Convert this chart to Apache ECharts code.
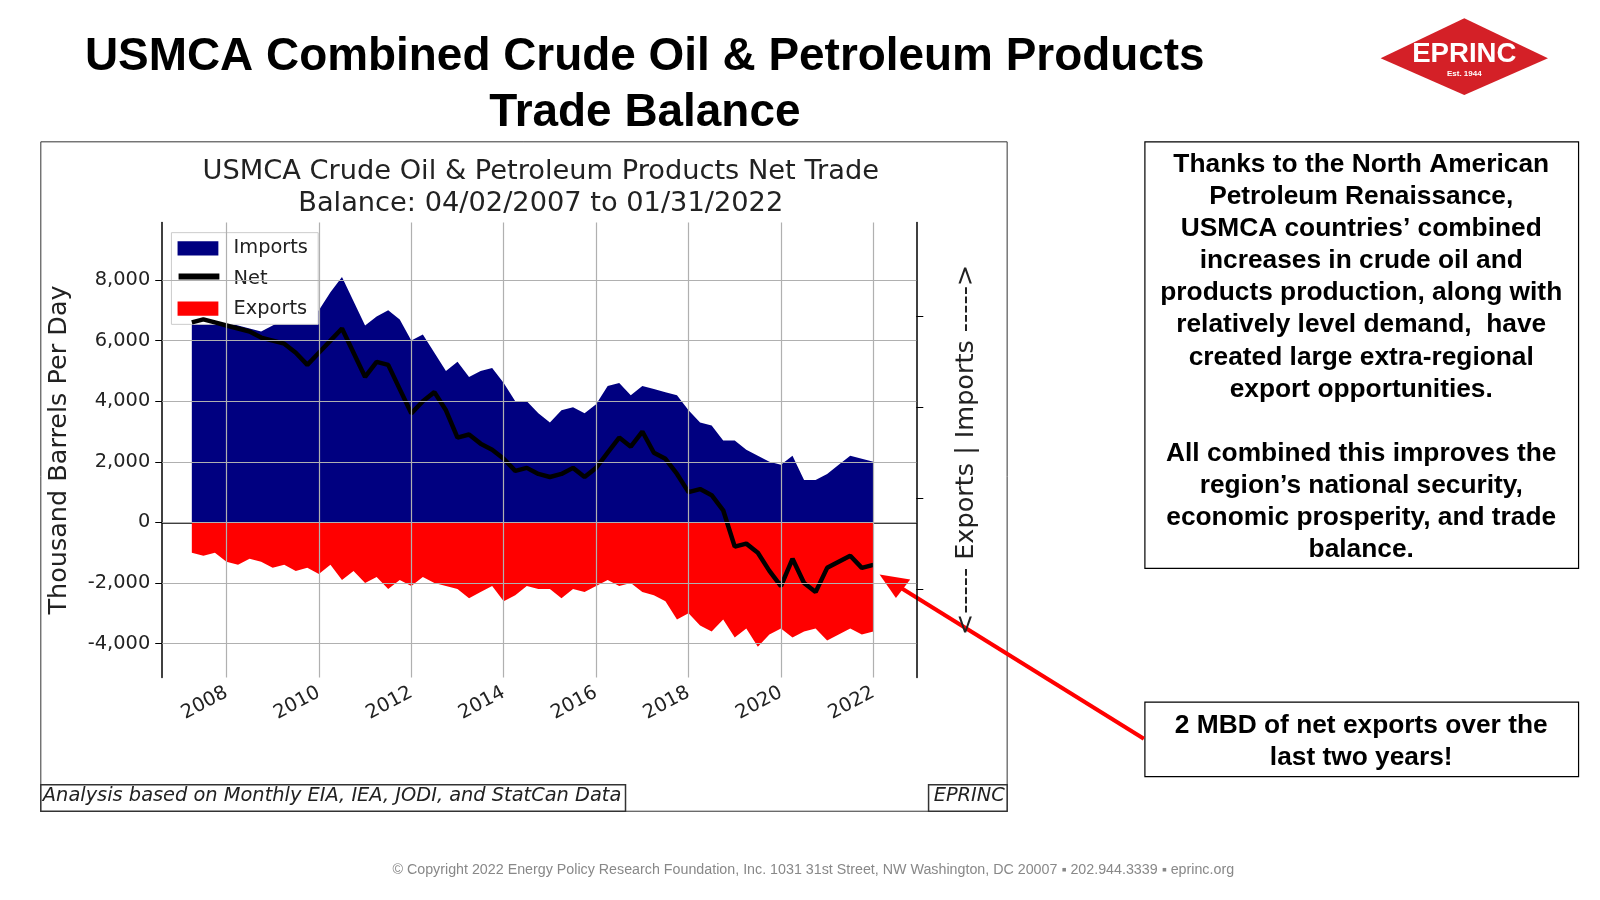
<!DOCTYPE html>
<html><head><meta charset="utf-8">
<script src="https://cdn.jsdelivr.net/npm/echarts@6/dist/echarts.min.js"></script>
<style>html,body{margin:0;background:#fff}#c{width:1600px;height:900px}</style>
</head><body><div id="c"></div>
<script>
const startYear = 2007.25, step = 0.25;
const imports = [6800,6800,6700,6600,6500,6400,6300,6500,6700,6800,6700,7000,7600,8100,7300,6500,6800,7000,6700,6000,6200,5600,5000,5300,4800,5000,5100,4600,4000,4000,3600,3300,3700,3800,3600,3900,4500,4600,4200,4500,4400,4300,4200,3700,3300,3200,2700,2700,2400,2200,2000,1900,2200,1400,1400,1600,1900,2200,2100,2000];
const exportsV = [-1000,-1100,-1000,-1300,-1400,-1200,-1300,-1500,-1400,-1600,-1500,-1700,-1400,-1900,-1600,-2000,-1800,-2200,-1900,-2100,-1800,-2000,-2100,-2200,-2500,-2300,-2100,-2600,-2400,-2100,-2200,-2200,-2500,-2200,-2300,-2100,-1900,-2100,-2000,-2300,-2400,-2600,-3200,-3000,-3400,-3600,-3200,-3800,-3500,-4100,-3700,-3500,-3800,-3600,-3500,-3900,-3700,-3500,-3700,-3600];
const net = [6600,6700,6600,6500,6400,6300,6100,6000,5900,5600,5200,5600,6000,6400,5600,4800,5300,5200,4400,3600,4000,4300,3700,2800,2900,2600,2400,2100,1700,1800,1600,1500,1600,1800,1500,1800,2300,2800,2500,3000,2300,2100,1600,1000,1100,900,400,-800,-700,-1000,-1600,-2100,-1200,-2000,-2300,-1500,-1300,-1100,-1500,-1400];
const yearTicks = [2008,2010,2012,2014,2016,2018,2020,2022];
const yTicks = [-4000,-2000,0,2000,4000,6000,8000];

const s = 1600/1568;
const k = v => v*s;
const pts = a => a.map((v,i)=>[startYear+i*step, v]);
const chart = echarts.init(document.getElementById('c'));
const gridLines = yearTicks.map(x=>({xAxis:x})).concat(yTicks.map(y=>({yAxis:y})));
const fmt = v => v.toLocaleString('en-US');
chart.setOption({
  animation:false,
  textStyle:{fontFamily:'DejaVu Sans'},
  title:[
    {text:'USMCA Combined Crude Oil & Petroleum Products\nTrade Balance',left:k(627),textAlign:'center',top:k(24),
     textStyle:{fontFamily:'Liberation Sans',fontSize:k(45),fontWeight:'bold',lineHeight:k(55),color:'#000'}},
    {text:'USMCA Crude Oil & Petroleum Products Net Trade\nBalance: 04/02/2007 to 01/31/2022',left:k(525),textAlign:'center',top:k(148),
     textStyle:{fontFamily:'DejaVu Sans',fontSize:k(26.7),fontWeight:'normal',lineHeight:k(31),color:'#222'}}
  ],
  legend:{orient:'vertical',left:k(168),top:k(228),backgroundColor:'#fff',borderColor:'#ccc',borderWidth:1,
    padding:[k(6),k(10),k(6),k(6)],itemGap:k(11),itemWidth:k(40),itemHeight:k(14),
    textStyle:{fontSize:k(19),color:'#222',fontFamily:'DejaVu Sans',padding:[0,0,0,k(10)]},
    data:[{name:'Imports',icon:'rect'},{name:'Net',icon:'rect',itemStyle:{color:'rgba(0,0,0,0)'}},{name:'Exports',icon:'rect'}]},
  grid:{left:k(159),top:k(218),width:k(739),height:k(446)},
  xAxis:{type:'value',min:2006.61,max:2022.93,
    axisLine:{lineStyle:{color:'#000',width:1.5}},
    axisTick:{customValues:yearTicks,length:7,lineStyle:{color:'#000'}},
    axisLabel:{customValues:yearTicks,rotate:28,fontSize:k(19),color:'#222',margin:14,formatter:v=>String(v)},
    splitLine:{show:false}},
  yAxis:[{type:'value',min:-5120,max:9900,
    name:'Thousand Barrels Per Day',nameLocation:'middle',nameGap:k(88),nameTextStyle:{fontSize:k(25),color:'#222'},
    axisLine:{show:true,lineStyle:{color:'#000',width:1.5}},
    axisTick:{show:true,customValues:yTicks,length:7,lineStyle:{color:'#000'}},
    axisLabel:{customValues:yTicks,fontSize:k(19),color:'#222',formatter:fmt,margin:12},
    splitLine:{show:false}},
   {type:'value',min:-5120,max:9900,position:'right',
    name:'<----- Exports | Imports ----->',nameLocation:'middle',nameGap:k(36),nameRotate:90,nameTextStyle:{fontSize:k(25),color:'#222'},
    axisLine:{show:true,lineStyle:{color:'#000',width:1.5}},
    axisTick:{show:true,customValues:[-2200,800,3800,6800],length:7,lineStyle:{color:'#000'}},
    axisLabel:{show:false},splitLine:{show:false}}],
  series:[
    {name:'Imports',type:'line',data:pts(imports),showSymbol:false,lineStyle:{width:0},
     itemStyle:{color:'#000080'},areaStyle:{color:'#000080',opacity:1},z:2},
    {name:'Exports',type:'line',data:pts(exportsV),showSymbol:false,lineStyle:{width:0},
     itemStyle:{color:'#ff0000'},areaStyle:{color:'#ff0000',opacity:1},z:2},
    {name:'Grid',type:'line',data:[],z:3,silent:true,
     markLine:{symbol:'none',silent:true,label:{show:false},lineStyle:{color:'#b0b0b0',type:'solid',width:1.2},data:gridLines}},
    {name:'Net',type:'line',data:pts(net),showSymbol:false,symbol:'none',lineStyle:{width:4.5,color:'#000'},itemStyle:{color:'#000'},z:4}
  ],
  graphic:[
    {type:'rect',shape:{x:k(175),y:k(268),width:k(40),height:k(6)},style:{fill:'#000'},z:200,zlevel:1},
    {type:'rect',shape:{x:k(40),y:k(139),width:k(947),height:k(656)},style:{fill:'none',stroke:'#333',lineWidth:1},z:-1},
    {type:'rect',shape:{x:k(40),y:k(769),width:k(573),height:k(26)},style:{fill:'#fff',stroke:'#333',lineWidth:1.5}},
    {type:'text',left:k(42),top:k(771),style:{text:'Analysis based on Monthly EIA, IEA, JODI, and StatCan Data',font:'italic '+k(19)+'px DejaVu Sans',fill:'#222'}},
    {type:'rect',shape:{x:k(910),y:k(769),width:k(77),height:k(26)},style:{fill:'#fff',stroke:'#333',lineWidth:1.5}},
    {type:'text',left:k(915),top:k(771),style:{text:'EPRINC',font:'italic '+k(19)+'px DejaVu Sans',fill:'#222'}},
    {type:'rect',shape:{x:k(1122),y:k(139),width:k(425),height:k(418)},style:{fill:'#fff',stroke:'#000',lineWidth:1.2}},
    {type:'text',x:k(1334),y:k(146),style:{text:'Thanks to the North American\nPetroleum Renaissance,\nUSMCA countries’ combined\nincreases in crude oil and\nproducts production, along with\nrelatively level demand,  have\ncreated large extra-regional\nexport opportunities.\n\nAll combined this improves the\nregion’s national security,\neconomic prosperity, and trade\nbalance.',
      font:'bold '+k(25.8)+'px Liberation Sans',fill:'#000',textAlign:'center',lineHeight:k(31.4)}},
    {type:'rect',shape:{x:k(1122),y:k(688),width:k(425),height:k(73)},style:{fill:'#fff',stroke:'#000',lineWidth:1.2}},
    {type:'text',x:k(1334),y:k(696),style:{text:'2 MBD of net exports over the\nlast two years!',font:'bold '+k(25.8)+'px Liberation Sans',fill:'#000',textAlign:'center',lineHeight:k(31)}},
    {type:'line',shape:{x1:k(1121),y1:k(724),x2:k(878),y2:k(573)},style:{stroke:'#ff0000',lineWidth:4}},
    {type:'polygon',shape:{points:[[k(862),k(563)],[k(892),k(568)],[k(878),k(586)]]},style:{fill:'#ff0000'}},
    {type:'text',x:k(797),y:k(846),style:{text:'© Copyright 2022 Energy Policy Research Foundation, Inc. 1031 31st Street, NW Washington, DC 20007 ▪ 202.944.3339 ▪ eprinc.org',font:k(14)+'px Liberation Sans',fill:'#888',textAlign:'center'}},
    {type:'polygon',shape:{points:[[k(1353),k(57)],[k(1435),k(18)],[k(1517),k(57)],[k(1435),k(93)]]},style:{fill:'#d42027'}},
    {type:'text',x:k(1435),y:k(40),style:{text:'EPRINC',font:'bold '+k(27)+'px Liberation Sans',fill:'#fff',textAlign:'center'}},
    {type:'text',x:k(1435),y:k(68),style:{text:'Est. 1944',font:'bold 8px Liberation Sans',fill:'#fff',textAlign:'center'}}
  ]
});
</script></body></html>
